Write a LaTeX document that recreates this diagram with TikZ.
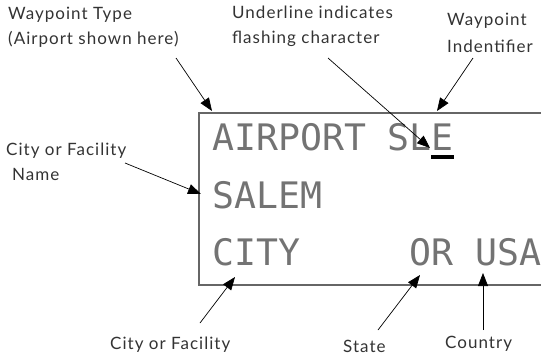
\documentclass[tikz,border=0pt]{standalone}
\usepackage{fontspec}
\setmainfont{Lato}[LetterSpace=6]
\newfontfamily\lcdfont{DejaVu Sans Mono}
\usetikzlibrary{arrows.meta}
\begin{document}
\begin{tikzpicture}[x=1pt,y=-1pt,
  lbl/.style={font=\fontsize{17}{25}\selectfont, text=black!80, inner sep=0, align=left, anchor=base west},
  lcd/.style={font=\lcdfont\fontsize{36.5}{40}\selectfont, text=black!55, inner sep=0, anchor=base west},
  ptr/.style={-{Triangle[length=13pt,width=10pt]}, line width=0.7pt, black},
  frame/.style={draw=black!60, line width=1.4pt}]
\useasboundingbox (0,0) rectangle (541,357);
\draw[frame] (560,113) -- (199,113) -- (199,285) -- (560,285);
% LCD rows
\node[lcd] (row1) at (212,150) {AIRPORT SLE};
\node[lcd] (row2) at (212,208) {SALEM};
\node[lcd] (row3) at (212,265) {CITY\ \ \ \ \ OR\ USA};
\node[fill=black, minimum width=23pt, minimum height=4pt, inner sep=0] (cursor) at (442.5,157) {};
% labels (base anchor = baseline of last line)
\node[lbl] (ltype) at (8,44) {Waypoint Type\\(Airport shown here)};
\node[lbl] (lunder) at (232,43) {Underline indicates\\flashing character};
\node[lbl, font=\fontsize{17}{27}\selectfont] (lident) at (447,52) {Waypoint\\Indentifier};
\node[lbl] (lname) at (6,180) {City or Facility\\\hspace*{6pt}Name};
\node[lbl] (lcity) at (110,349) {City or Facility};
\node[lbl] (lstate) at (343,352) {State};
\node[lbl] (lcountry) at (445,348) {Country};
% arrow endpoints
\coordinate (s1) at (176,58);  \coordinate (t1) at (212,111);
\coordinate (s2) at (328,58);  \coordinate (t2) at (430,148);
\coordinate (s3) at (473,58);  \coordinate (t3) at (437,111);
\coordinate (s4) at (125,163); \coordinate (t4) at (201,194);
\coordinate (s5) at (200,323); \coordinate (t5) at (235,277);
\coordinate (s6) at (378,330); \coordinate (t6) at (420,275);
\coordinate (s7) at (483,330); \coordinate (t7) at (483,273);
\foreach \i in {1,...,7} \draw[ptr] (s\i) -- (t\i);
\end{tikzpicture}
\end{document}
